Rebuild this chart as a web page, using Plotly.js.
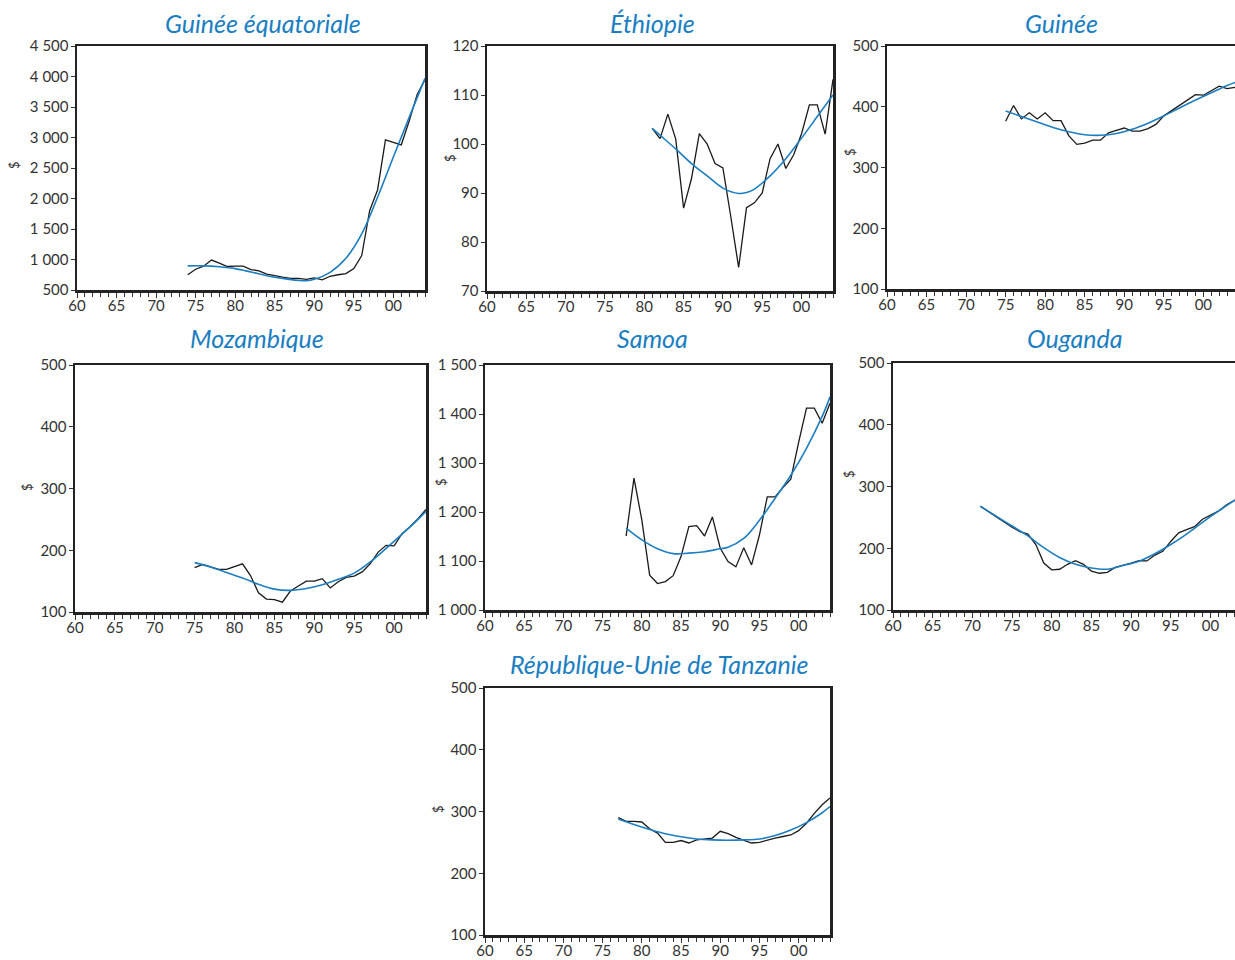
<!DOCTYPE html>
<html>
<head>
<meta charset="utf-8">
<script src="https://cdn.plot.ly/plotly-3.0.1.min.js"></script>
<style>
html,body{margin:0;padding:0;background:#fff;overflow:hidden;}
#chart{width:1235px;height:960px;}
</style>
</head>
<body>
<div id="chart"></div>
<script>
// ---------- Data ----------
const xTickVals = [1960,1965,1970,1975,1980,1985,1990,1995,2000];
const xTickText = ['60','65','70','75','80','85','90','95','00'];

const titles = ['Guinée équatoriale','Éthiopie','Guinée','Mozambique','Samoa','Ouganda','République-Unie de Tanzanie'];
const yLabel = '$';

// Guinée équatoriale
const gqYears = [1974,1975,1976,1977,1978,1979,1980,1981,1982,1983,1984,1985,1986,1987,1988,1989,1990,1991,1992,1993,1994,1995,1996,1997,1998,1999,2000,2001,2002,2003,2004];
const gqValues = [750,840,890,990,940,885,890,890,835,815,760,730,710,690,690,675,700,665,725,750,770,850,1065,1800,2140,2960,2920,2880,3270,3700,3950];
const gqTrendYears = [1974,1976,1978,1980,1982,1984,1986,1988,1989,1990,1992,1994,1996,1998,2000,2002,2004];
const gqTrend = [895,895,880,850,795,735,690,658,652,675,790,1020,1420,2020,2680,3330,3970];

// Éthiopie
const etYears = [1981,1982,1983,1984,1985,1986,1987,1988,1989,1990,1991,1992,1993,1994,1995,1996,1997,1998,1999,2000,2001,2002,2003,2004];
const etValues = [103.2,101.1,106.1,101,86.9,92.9,102.1,100,96,95.1,85.2,74.8,87,88,90,97,100,95,97.8,102.1,108,108,102,113.2];
const etTrendYears = [1981,1982,1984,1986,1988,1990,1992,1993,1994,1996,1998,2000,2002,2004];
const etTrend = [103.2,101.8,99,96,93.5,91,89.9,90.1,90.8,93.5,97,101.2,105.6,110];

// Guinée
const guYears = [1975,1976,1977,1978,1979,1980,1981,1982,1983,1984,1985,1986,1987,1988,1989,1990,1991,1992,1993,1994,1995,1996,1997,1998,1999,2000,2001,2002,2003,2004];
const guValues = [376,402,380,390,380,390,377,377,352,338,340,345,345,357,361,365,360,360,364,371,385,394,403,412,420,419,426,434,430,432];
const guTrendYears = [1975,1977,1979,1981,1983,1985,1987,1989,1991,1993,1995,1997,1999,2001,2003,2004];
const guTrend = [393,384,375,366,359,354,353,356,363,373,385,398,411,423,435,440];

// Mozambique
const mzYears = [1975,1976,1977,1978,1979,1980,1981,1982,1983,1984,1985,1986,1987,1988,1989,1990,1991,1992,1993,1994,1995,1996,1997,1998,1999,2000,2001,2002,2003,2004];
const mzValues = [172,177,173,169,169,174,178,159,131,121,120,116,134,142,150,150,154,139,149,156,158,165,178,197,208,207,227,238,251,266];
const mzTrendYears = [1975,1977,1979,1981,1983,1985,1987,1989,1991,1993,1995,1997,1999,2001,2003,2004];
const mzTrend = [180,173,164,155,145,137,135,138,144,153,163,181,203,226,250,263];

// Samoa
const saYears = [1978,1979,1980,1981,1982,1983,1984,1985,1986,1987,1988,1989,1990,1991,1992,1993,1994,1995,1996,1997,1998,1999,2000,2001,2002,2003,2004];
const saValues = [1151,1269,1184,1071,1054,1058,1070,1109,1170,1172,1151,1190,1126,1099,1088,1127,1092,1153,1231,1231,1250,1267,1342,1412,1412,1381,1422];
const saTrendYears = [1978,1980,1982,1984,1986,1988,1990,1991,1993,1995,1997,1999,2001,2003,2004];
const saTrend = [1167,1143,1125,1115,1116,1119,1125,1128,1146,1183,1228,1275,1330,1395,1435];

// Ouganda
const ugYears = [1971,1972,1973,1974,1975,1976,1977,1978,1979,1980,1981,1982,1983,1984,1985,1986,1987,1988,1989,1990,1991,1992,1993,1994,1995,1996,1997,1998,1999,2000,2001,2002,2003,2004];
const ugValues = [268,259.5,251,243,234,227,223,206,176,165,166,174,180,174,163,159.5,161,169,172,176,180,179.5,189,195,211,225,230,235,247,253,260,270,277,285];
const ugTrendYears = [1971,1973,1975,1977,1979,1981,1983,1985,1987,1989,1991,1993,1995,1997,1999,2001,2003,2004];
const ugTrend = [268,252,236,220,201,185,174,168,166,172,179,191,206,223,242,260,277,285];

// République-Unie de Tanzanie
const tzYears = [1977,1978,1979,1980,1981,1982,1983,1984,1985,1986,1987,1988,1989,1990,1991,1992,1993,1994,1995,1996,1997,1998,1999,2000,2001,2002,2003,2004];
const tzValues = [290,284,284,283,272,265,250,250,253,249,254,256,257,268,264,258,253,249,250,254,257,259.5,262,269,281,297,311,322];
const tzTrendYears = [1977,1979,1981,1983,1985,1987,1989,1991,1993,1995,1997,1999,2001,2003,2004];
const tzTrend = [288,279,271,264,259,255.5,254,253.5,254,255.5,261,270,282,298,308];

// ---------- Layout geometry (pixels) ----------
const W = 1235, H = 960;
const panels = [
  {years:gqYears, vals:gqValues, ty:gqTrendYears, tv:gqTrend, x:[77,425], y:[46,290], xr:[1960,2004], yr:[500,4500], dt:500, right:true, tx:263, tyy:23, lx:14, ly:165},
  {years:etYears, vals:etValues, ty:etTrendYears, tv:etTrend, x:[487,833], y:[46,291], xr:[1960,2004], yr:[70,120], dt:10, right:true, tx:652, tyy:23, lx:450, ly:158},
  {years:guYears, vals:guValues, ty:guTrendYears, tv:guTrend, x:[887,1235], y:[46,289], xr:[1960,2004], yr:[100,500], dt:100, right:false, tx:1061, tyy:23, lx:850, ly:152},
  {years:mzYears, vals:mzValues, ty:mzTrendYears, tv:mzTrend, x:[75,426], y:[365,612], xr:[1960,2004], yr:[100,500], dt:100, right:true, tx:257, tyy:338, lx:27, ly:487},
  {years:saYears, vals:saValues, ty:saTrendYears, tv:saTrend, x:[485,830], y:[365,610], xr:[1960,2004], yr:[1000,1500], dt:100, right:true, tx:652, tyy:338, lx:441, ly:482},
  {years:ugYears, vals:ugValues, ty:ugTrendYears, tv:ugTrend, x:[893,1235], y:[363,610], xr:[1960,2003.1], yr:[100,500], dt:100, right:false, tx:1075, tyy:338, lx:849, ly:474},
  {years:tzYears, vals:tzValues, ty:tzTrendYears, tv:tzTrend, x:[485,830], y:[688,935], xr:[1960,2004], yr:[100,500], dt:100, right:true, tx:659, tyy:664, lx:438, ly:809}
];

const traces = [];
const layout = {
  width: W, height: H,
  margin: {l:0, r:0, t:0, b:0},
  paper_bgcolor: '#fff', plot_bgcolor: '#fff',
  showlegend: false,
  separators: ', ',
  font: {family: 'Lato, "Open Sans", sans-serif', color: '#333', size: 15},
  annotations: []
};

const lineColor = '#222';
panels.forEach((p, i) => {
  const n = i + 1;
  const xa = 'x' + (n === 1 ? '' : n), ya = 'y' + (n === 1 ? '' : n);
  traces.push({x: p.years, y: p.vals, xaxis: xa, yaxis: ya, mode: 'lines', type: 'scatter',
    line: {color: '#1a1a1a', width: 1.3}, hoverinfo: 'skip'});
  traces.push({x: p.ty, y: p.tv, xaxis: xa, yaxis: ya, mode: 'lines', type: 'scatter',
    line: {color: '#1b7ec2', width: 1.6, shape: 'spline', smoothing: 1}, hoverinfo: 'skip'});
  layout['xaxis' + (n === 1 ? '' : n)] = {
    domain: [p.x[0] / W, p.x[1] / W], anchor: ya, range: p.xr,
    tickmode: 'array', tickvals: xTickVals, ticktext: xTickText,
    ticks: 'outside', ticklen: 5, tickwidth: 1, tickcolor: '#333',
    ticklabelstandoff: -5,
    minor: {ticks: 'outside', dtick: 1, tick0: 1960, ticklen: 4, tickwidth: 1, tickcolor: '#333', showgrid: false},
    showgrid: false, zeroline: false,
    showline: true, linecolor: lineColor, linewidth: 2.5, mirror: true,
    tickfont: {size: 15, color: '#333'}, fixedrange: true
  };
  layout['yaxis' + (n === 1 ? '' : n)] = {
    domain: [1 - p.y[1] / H, 1 - p.y[0] / H], anchor: xa, range: p.yr,
    tick0: p.yr[0], dtick: p.dt, separatethousands: true,
    ticks: 'outside', ticklen: 4, tickwidth: 1, tickcolor: '#333',
    ticklabelstandoff: -1,
    showgrid: false, zeroline: false,
    showline: true, linecolor: lineColor, linewidth: 2.5, mirror: p.right,
    tickfont: {size: 15, color: '#333'},
    fixedrange: true
  };
  layout.annotations.push({
    text: titles[i], xref: 'paper', yref: 'paper',
    x: p.tx / W, y: 1 - p.tyy / H, xanchor: 'center', yanchor: 'middle',
    showarrow: false,
    font: {family: 'Lato, "Open Sans", sans-serif', size: 25, color: '#1b7ec2', style: 'italic'}
  });
  layout.annotations.push({
    text: yLabel, xref: 'paper', yref: 'paper',
    x: p.lx / W, y: 1 - p.ly / H, xanchor: 'center', yanchor: 'middle',
    textangle: -90, showarrow: false,
    font: {size: 13, color: '#333'}
  });
});

Plotly.newPlot('chart', traces, layout, {displayModeBar: false, staticPlot: true});
</script>
</body>
</html>
